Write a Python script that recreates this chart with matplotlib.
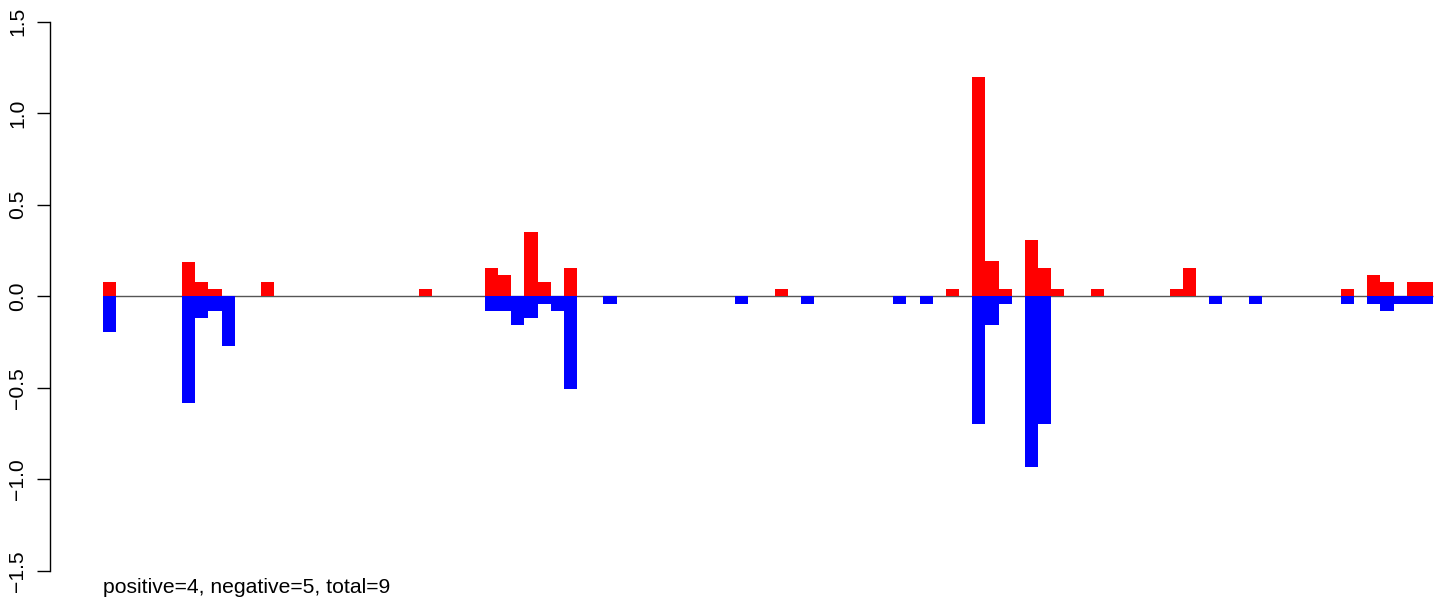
import matplotlib
matplotlib.use('Agg')
import matplotlib.pyplot as plt

plt.rcParams['font.family'] = ['Liberation Sans', 'DejaVu Sans']

n_bins = 101

# positive (red) bars: bin index and height
pos_bins = [0, 6, 7, 8, 12, 24, 29, 30, 32, 33, 35, 51, 64, 66, 67, 68, 70, 71,
            72, 75, 81, 82, 94, 96, 97, 99, 100]
pos_vals = [0.077, 0.19, 0.077, 0.038, 0.077, 0.038, 0.155, 0.116, 0.35, 0.077,
            0.155, 0.038, 0.038, 1.2, 0.193, 0.038, 0.308, 0.155, 0.038, 0.038,
            0.038, 0.155, 0.038, 0.116, 0.077, 0.077, 0.077]

# negative (blue) bars: bin index and depth
neg_bins = [0, 6, 7, 8, 9, 29, 30, 31, 32, 33, 34, 35, 38, 48, 53, 60, 62, 66,
            67, 68, 70, 71, 84, 87, 94, 96, 97, 98, 99, 100]
neg_vals = [0.195, 0.583, 0.118, 0.08, 0.27, 0.078, 0.078, 0.155, 0.117, 0.04,
            0.078, 0.505, 0.04, 0.04, 0.04, 0.04, 0.04, 0.696, 0.155, 0.04,
            0.931, 0.696, 0.04, 0.04, 0.04, 0.04, 0.08, 0.04, 0.04, 0.04]

yticks = [-1.5, -1.0, -0.5, 0.0, 0.5, 1.0, 1.5]
ytick_labels = ['\u22121.5', '\u22121.0', '\u22120.5', '0.0', '0.5', '1.0', '1.5']
summary = 'positive=4, negative=5, total=9'

W, H = 1455, 606
fig = plt.figure(figsize=(W / 100, H / 100), dpi=100)
ax = fig.add_axes([0, 0, 1, 1])

# pixel geometry of the reference
px_per_bin = 13.17
px_per_unit = 183.0
x_first = 103
y_zero = 296.3
ax.set_xlim(-x_first / px_per_bin, (W - x_first) / px_per_bin)
ax.set_ylim(-(H - y_zero) / px_per_unit, y_zero / px_per_unit)

ax.hlines(0, 0, n_bins, color='#555555', lw=1.0, zorder=1)
ax.bar(pos_bins, pos_vals, width=1, align='edge', color='#ff0000', lw=0, zorder=2)
ax.bar(neg_bins, [-v for v in neg_vals], width=1, align='edge', color='#0000ff', lw=0, zorder=2)

for s in ['top', 'right', 'bottom']:
    ax.spines[s].set_visible(False)
ax.spines['left'].set_position(('data', (50 - x_first) / px_per_bin))
ax.spines['left'].set_bounds(-1.5, 1.5)
ax.spines['left'].set_linewidth(1.0)
ax.set_xticks([])
ax.set_yticks(yticks)
ax.set_yticklabels(ytick_labels)
ax.tick_params(axis='y', direction='out', length=9.4, width=1.0,
               labelrotation=90, labelsize=15.2, pad=7)
for lab in ax.get_yticklabels():
    lab.set_verticalalignment('center')

fig.text(x_first / W, 13 / H, summary, fontsize=15.2, ha='left', va='baseline')

fig.savefig('out.png', dpi=100)
